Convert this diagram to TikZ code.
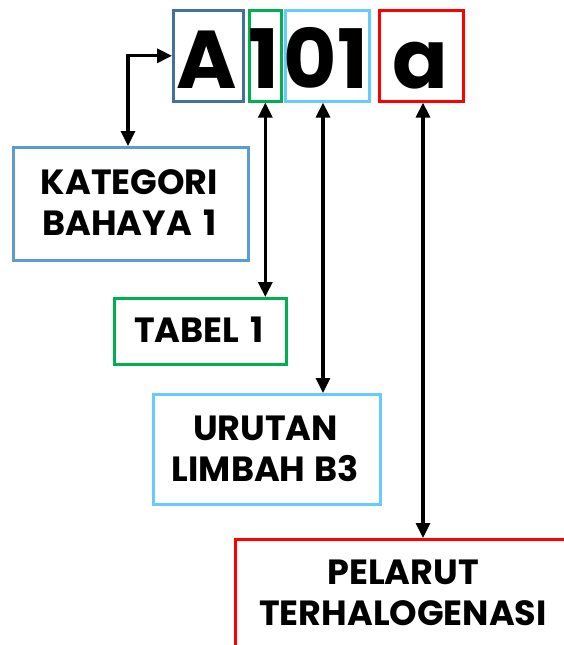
\documentclass[tikz,border=0pt]{standalone}
\usepackage{fontspec}
\setmainfont{Poppins}
\usetikzlibrary{arrows.meta}
\definecolor{cA}{HTML}{41719C}
\definecolor{cGreen}{HTML}{00B050}
\definecolor{cLight}{HTML}{66CCFF}
\definecolor{cRed}{HTML}{FF0000}
\definecolor{cKat}{HTML}{5B9BD5}
\begin{document}
\begin{tikzpicture}[x=1pt,y=-1pt,
  box/.style={draw, line width=2.6pt, inner sep=0pt, anchor=north west},
  big/.style={font=\fontsize{82}{82}\selectfont\bfseries, inner sep=0pt, anchor=base},
  lbl/.style={font=\fontsize{35}{41}\selectfont\bfseries, align=center, inner sep=0pt},
  conn/.style={line width=3.2pt, {Triangle[length=15pt,width=14pt]}-{Triangle[length=15pt,width=14pt]}}
]
\useasboundingbox (0,0) rectangle (564,645);
% top code boxes
\node[box, draw=cA, minimum width=70pt, minimum height=91pt] (abox) at (172,9) {};
\node[box, draw=cGreen, minimum width=32pt, minimum height=91pt] (gbox) at (248,9) {};
\node[box, draw=cLight, minimum width=84pt, minimum height=91pt] (lbox) at (284,9) {};
\node[box, draw=cRed, minimum width=84pt, minimum height=91pt] (rbox) at (378,9) {};
% big letters
\node[big] (tA) at (207,88) {A};
\node[big] (t1) at (264,88) {1};
\node[big] (t01) at (326,88) {01};
\node[big] (ta) at (420,88) {a};
% label boxes
\node[box, draw=cKat, minimum width=235pt, minimum height=113pt] (kat) at (12,146) {};
\node[lbl] (katt) at (129.5,203) {KATEGORI\\BAHAYA\kern4pt{} 1};
\node[box, draw=cGreen, minimum width=172pt, minimum height=66pt] (tab) at (113,297) {};
\node[lbl] (tabt) at (199,330) {TABEL\kern4pt{} 1};
\node[box, draw=cLight, minimum width=227pt, minimum height=110pt] (uru) at (152,393) {};
\node[lbl] (urut) at (265.5,449) {URUTAN\\LIMBAH\kern2pt{} B3};
\node[box, draw=cRed, minimum width=340pt, minimum height=125pt] (pel) at (234,538) {};
\node[lbl] (pelt) at (403,593) {PELARUT\\TERHALOGENASI};
% connectors
\draw[conn] (abox.west) -| (kat.north -| 128,0);
\draw[conn] (gbox.south) -- (gbox.south |- tab.north);
\draw[conn] (lbox.south -| 323,0) -- (323,393);
\draw[conn] (rbox.south -| 423,0) -- (423,538);
\end{tikzpicture}
\end{document}
